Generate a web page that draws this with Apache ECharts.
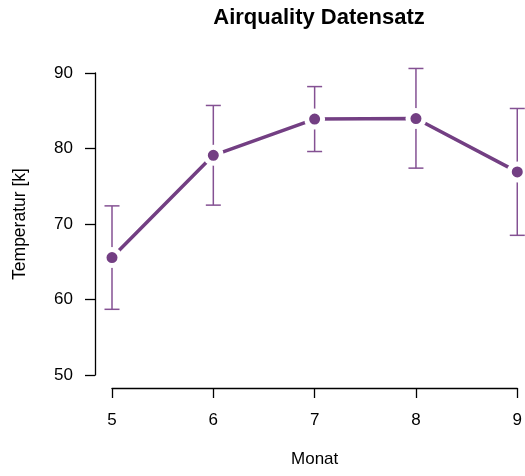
<!DOCTYPE html>
<html>
<head>
<meta charset="utf-8">
<script src="https://cdn.jsdelivr.net/npm/echarts@6/dist/echarts.min.js"></script>
<style>
html,body{margin:0;padding:0;background:#fff;}
#chart{width:525px;height:476px;}
</style>
</head>
<body>
<div id="chart"></div>
<script>
// Data
var months = [5, 6, 7, 8, 9];
var meanTemp = [65.55, 79.10, 83.90, 83.97, 76.90];
var lowerTemp = [58.7, 72.5, 79.6, 77.4, 68.5];
var upperTemp = [72.4, 85.7, 88.2, 90.6, 85.3];
var yTicks = [50, 60, 70, 80, 90];
var xTicks = [5, 6, 7, 8, 9];

var titleText = 'Airquality Datensatz';
var xName = 'Monat';
var yName = 'Temperatur [k]';

var FONT = '"Liberation Sans", Arial, sans-serif';
var purple = '#733f83';
var barColor = '#845193';

var lineData = months.map(function (m, i) { return [m, meanTemp[i]]; });
var errData = months.map(function (m, i) { return [m, lowerTemp[i], upperTemp[i]]; });

var chart = echarts.init(document.getElementById('chart'), null, {renderer: 'canvas'});
chart.setOption({
  animation: false,
  backgroundColor: '#fff',
  title: {
    text: titleText,
    left: 314,
    textAlign: 'center',
    top: 2,
    textStyle: {fontFamily: FONT, fontWeight: 'bold', fontSize: 22, color: '#000'}
  },
  grid: {left: 112, right: 5, top: 73, bottom: 101, containLabel: false},
  xAxis: {
    type: 'value',
    min: xTicks[0], max: xTicks[xTicks.length - 1], interval: 1,
    offset: 13,
    name: xName,
    nameLocation: 'middle',
    nameGap: 63,
    nameTextStyle: {fontFamily: FONT, fontSize: 17, color: '#000'},
    axisLine: {show: true, lineStyle: {color: '#000', width: 1.3}},
    axisTick: {show: true, length: 10, lineStyle: {color: '#000', width: 1.3}},
    axisLabel: {fontFamily: FONT, fontSize: 17, color: '#000', margin: 24},
    splitLine: {show: false}
  },
  yAxis: {
    type: 'value',
    min: yTicks[0], max: yTicks[yTicks.length - 1], interval: 10,
    offset: 17,
    name: yName,
    nameLocation: 'middle',
    nameGap: 66,
    nameRotate: 90,
    nameTextStyle: {fontFamily: FONT, fontSize: 17.5, color: '#000'},
    axisLine: {show: true, lineStyle: {color: '#000', width: 1.3}},
    axisTick: {show: true, length: 10, lineStyle: {color: '#000', width: 1.3}},
    axisLabel: {fontFamily: FONT, fontSize: 17, color: '#000', margin: 22},
    splitLine: {show: false}
  },
  series: [
    {
      type: 'custom',
      z: 1,
      data: errData,
      renderItem: function (params, api) {
        var x = api.value(0);
        var lo = api.coord([x, api.value(1)]);
        var hi = api.coord([x, api.value(2)]);
        var cap = 7.5;
        var style = {stroke: barColor, lineWidth: 1.5, fill: null};
        return {
          type: 'group',
          children: [
            {type: 'line', shape: {x1: lo[0], y1: lo[1], x2: hi[0], y2: hi[1]}, style: style},
            {type: 'line', shape: {x1: lo[0] - cap, y1: lo[1], x2: lo[0] + cap, y2: lo[1]}, style: style},
            {type: 'line', shape: {x1: hi[0] - cap, y1: hi[1], x2: hi[0] + cap, y2: hi[1]}, style: style}
          ]
        };
      }
    },
    {
      type: 'line',
      z: 3,
      data: lineData,
      symbol: 'circle',
      symbolSize: 16,
      lineStyle: {color: purple, width: 3.5},
      itemStyle: {color: purple, borderColor: '#fff', borderWidth: 5},
      emphasis: {disabled: true}
    }
  ]
});
</script>
</body>
</html>
